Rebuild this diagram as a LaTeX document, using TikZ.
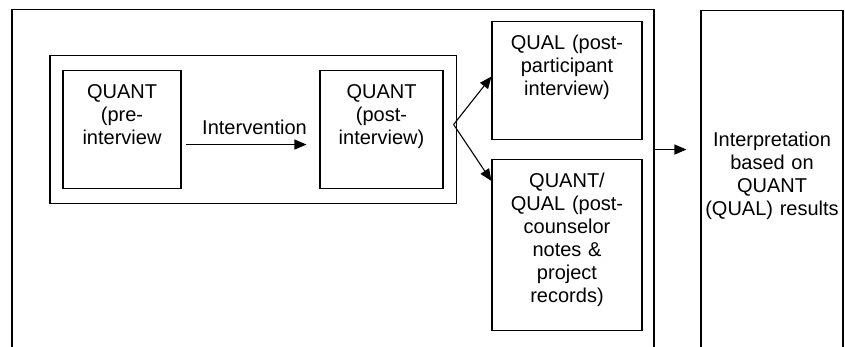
\documentclass[tikz,border=0pt]{standalone}
\usepackage{fontspec}
\setmainfont{Liberation Sans}
\usetikzlibrary{arrows.meta, positioning, fit, calc}

\tikzset{
  stage/.style={draw, line width=1.1pt, align=center, anchor=north,
    inner xsep=3pt, inner ysep=6pt, text height=22pt,
    font=\fontsize{20}{23}\selectfont},
  flow/.style={line width=1.1pt, -{Triangle[length=12pt,width=10pt]}},
  flowlabel/.style={font=\fontsize{20}{23}\selectfont}
}

\begin{document}
\begin{tikzpicture}[x=1pt, y=1pt]
    \useasboundingbox (0,0) rectangle (845,347);
    \clip (0,0) rectangle (845,347);

    % Outer frame (runs past the lower edge)
    \node[draw, line width=1.1pt, anchor=north, minimum width=642pt, minimum height=380pt] (frame) at (333,338) {};

    % Quantitative strand
    \node[stage, text width=112pt, text depth=84pt] (pre) at (122,277) {QUANT\\(pre-\\interview};
    \node[stage, text width=117pt, text depth=84pt] (post) at (381.5,277) {QUANT\\(post-\\interview)};
    \node[draw, line width=1.1pt, fit=(pre)(post), inner xsep=12.5pt, inner ysep=14.5pt] (group) {};

    % Follow-up data
    \node[stage, text width=144pt, text depth=84pt] (qual) at (567,326) {QUAL (post-\\participant\\interview)};
    \node[stage, text width=144pt, text depth=137pt] (mixed) at (567,188) {QUANT/\\QUAL (post-\\counselor\\notes \&\\project\\records)};

    % Interpretation
    \node[stage, inner xsep=2pt, text width=138pt, text height=130pt, text depth=215pt] (interp) at (772,337) {Interpretation\\based on\\QUANT\\(QUAL) results};

    % Arrows
    \draw[flow, shorten <=4pt, shorten >=13pt] ([yshift=-15pt]pre.east) -- node[flowlabel, above=6pt, xshift=4pt] (intlab) {Intervention} ([yshift=-15pt]post.west);
    \coordinate (fork) at ([shift={(-3pt,5pt)}]group.east);
    \draw[flow] (fork) -- ([yshift=4pt]qual.west);
    \draw[flow] (fork) -- ([yshift=-22pt]mixed.north west);
    \coordinate (gap) at ($(qual.south)!0.5!(mixed.north)$);
    \draw[flow, shorten >=14pt] (frame.east |- gap) -- (interp.west |- gap);
\end{tikzpicture}
\end{document}
